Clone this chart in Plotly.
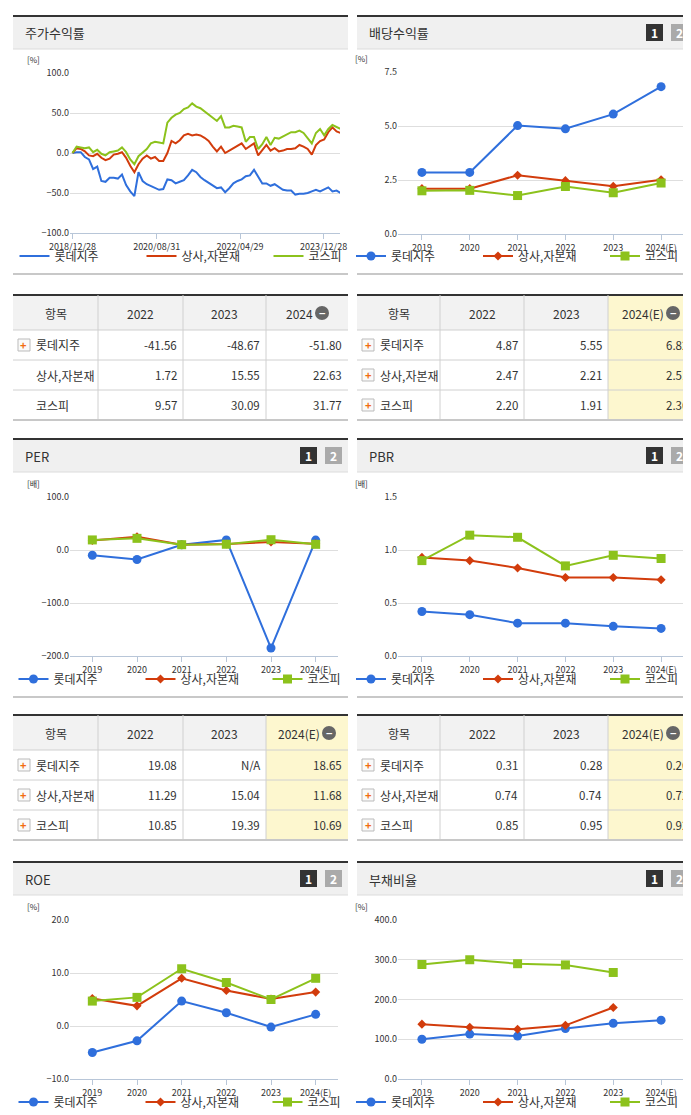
import pandas as pd
import plotly.graph_objects as go

W, H = 691, 1115
BLUE, RED, GREEN = '#2f6fdc', '#d23c0c', '#8cc21c'
NAMES = ['롯데지주', '상사,자본재', '코스피']
years = ['2019', '2020', '2021', '2022', '2023', '2024(E)']

# 주가수익률 (monthly)
ret_dates = pd.date_range('2018-12-28', periods=66, freq='30D')
ret_lotte = [0, 1, 1, -5, -8, -20, -17, -35, -36, -31, -31, -32, -27, -40, -48, -54, -24, -35, -39, -41,
             -43, -46, -45, -33, -34, -38, -36, -34, -28, -21, -24, -30, -34, -37, -40, -44, -43, -49, -44, -38,
             -35, -33, -29, -28, -21, -30, -38, -38, -41, -39, -43, -46, -47, -47, -52, -51, -51, -50, -48, -46,
             -48, -45, -43, -48, -47, -50]
ret_sector = [0, 6, 5, 2, -3, -4, -1, -6, -9, -7, -2, -1, 1, -6, -16, -24, -14, -7, -3, -7,
              -5, -10, -10, 0, 15, 12, 16, 22, 24, 22, 23, 22, 19, 15, 8, 2, 8, 0, 3, 6,
              10, 12, 5, 8, 12, -3, 4, 10, 3, 6, 2, 3, 5, 5, 6, 10, 8, 5, -2, 10,
              15, 17, 26, 32, 27, 25]
ret_kospi = [0, 8, 7, 6, 7, 1, 4, -1, -3, 1, 2, 3, 7, 1, -8, -14, -4, 1, 5, 12,
             14, 13, 12, 38, 44, 48, 50, 55, 57, 62, 58, 56, 52, 47, 43, 40, 46, 32, 32, 34,
             33, 32, 14, 20, 20, 5, 11, 20, 10, 19, 18, 21, 23, 26, 26, 28, 25, 18, 12, 25,
             30, 22, 30, 35, 33, 30]

div_lotte = [2.85, 2.85, 5.02, 4.87, 5.55, 6.82]
div_sector = [2.10, 2.10, 2.72, 2.47, 2.21, 2.51]
div_kospi = [2.00, 2.02, 1.78, 2.20, 1.91, 2.36]

per_lotte = [-10, -18, 10, 19.08, -185, 18.65]
per_sector = [18, 25, 10, 11.29, 15.04, 11.68]
per_kospi = [19, 22, 10, 10.85, 19.39, 10.69]

pbr_lotte = [0.42, 0.39, 0.31, 0.31, 0.28, 0.26]
pbr_sector = [0.93, 0.90, 0.83, 0.74, 0.74, 0.72]
pbr_kospi = [0.90, 1.14, 1.12, 0.85, 0.95, 0.92]

roe_lotte = [-5.0, -2.8, 4.7, 2.5, -0.2, 2.2]
roe_sector = [5.2, 3.8, 9.0, 6.7, 5.1, 6.4]
roe_kospi = [4.7, 5.4, 10.8, 8.2, 5.0, 9.0]

debt_lotte = [100, 113, 108, 127, 140, 148]
debt_sector = [138, 130, 125, 135, 180, None]
debt_kospi = [288, 300, 290, 287, 268, None]

tbl_ret = [['-41.56', '-48.67', '-51.80'], ['1.72', '15.55', '22.63'], ['9.57', '30.09', '31.77']]
tbl_div = [['4.87', '5.55', '6.82'], ['2.47', '2.21', '2.51'], ['2.20', '1.91', '2.36']]
tbl_per = [['19.08', 'N/A', '18.65'], ['11.29', '15.04', '11.68'], ['10.85', '19.39', '10.69']]
tbl_pbr = [['0.31', '0.28', '0.26'], ['0.74', '0.74', '0.72'], ['0.85', '0.95', '0.92']]


def X(p):
    return p / W


def Y(p):
    return 1 - p / H


fig = go.Figure()
shapes, annots = [], []
FONT = 'Noto Sans CJK KR'


def rect(x0, y0, x1, y1, fill=None, line=None, lw=1):
    shapes.append(dict(type='rect', xref='paper', yref='paper', x0=X(x0), x1=X(x1), y0=Y(y1), y1=Y(y0),
                       fillcolor=fill or 'rgba(0,0,0,0)', line=dict(color=line or 'rgba(0,0,0,0)', width=lw),
                       layer='below'))


def hline(x0, x1, y, color, lw=1):
    shapes.append(dict(type='line', xref='paper', yref='paper', x0=X(x0), x1=X(x1), y0=Y(y), y1=Y(y),
                       line=dict(color=color, width=lw)))


def vline(x, y0, y1, color, lw=1):
    shapes.append(dict(type='line', xref='paper', yref='paper', x0=X(x), x1=X(x), y0=Y(y0), y1=Y(y1),
                       line=dict(color=color, width=lw)))


def text(x, y, s, size=12, color='#333', xanchor='left', **kw):
    annots.append(dict(xref='paper', yref='paper', x=X(x), y=Y(y), text=s, showarrow=False,
                       xanchor=xanchor, yanchor='middle', font=dict(size=size, color=color, family=FONT), **kw))


def panel(x0, x1, y0, title, icons=True):
    rect(x0, y0, x1, y0 + 33, fill='#f0f0f0')
    hline(x0, x1, y0, '#333', 2)
    hline(x0, x1, y0 + 33, '#dcdcdc', 1)
    hline(x0, x1, y0 + 258, '#c8c8c8', 2)
    text(x0 + 10, y0 + 17, title, 13)
    if icons:
        for k, (lbl, col) in enumerate([('1', '#333'), ('2', '#aaa')]):
            bx = x1 - 48 + k * 25
            rect(bx, y0 + 8, bx + 17, y0 + 25, fill=col)
            text(bx + 8.5, y0 + 16.5, '<b>%s</b>' % lbl, 12, 'white', 'center')


def plus_icon(x, y):
    rect(x, y - 6, x + 12, y + 6, fill='#fafafa', line='#bbb')
    text(x + 6, y, '<b>+</b>', 11, '#f26b10', 'center')


def table(x0, cols, y0, head, rows, icons, hilite):
    x1 = cols[-1]
    rect(x0, y0, x1, y0 + 35, fill='#f2f2f2')
    if hilite:
        rect(cols[3], y0, x1, y0 + 125, fill='#fdf7cf')
    hline(x0, x1, y0, '#333', 2)
    hline(x0, x1, y0 + 35, '#d0d0d0')
    for c in cols[1:-1]:
        vline(c, y0, y0 + 125, '#d0d0d0')
    for i, h in enumerate(head):
        cx = (cols[i] + cols[i + 1]) / 2 - (8 if i == 3 else 0)
        text(cx, y0 + 18, h, 12, '#333', 'center')
    mx = (cols[3] + cols[4]) / 2 + (22 if len(head[3]) > 4 else 15)
    shapes.append(dict(type='circle', xref='paper', yref='paper', x0=X(mx - 7), x1=X(mx + 7),
                       y0=Y(y0 + 25), y1=Y(y0 + 11), fillcolor='#666', line=dict(width=0)))
    text(mx, y0 + 18, '<b>−</b>', 11, 'white', 'center')
    for r in range(3):
        ry = y0 + 35 + r * 30
        if r < 2:
            hline(x0, x1, ry + 30, '#d0d0d0')
        if icons[r]:
            plus_icon(x0 + 5, ry + 15)
        text(x0 + 21, ry + 15, NAMES[r], 12, '#333')
        for c in range(3):
            text(cols[c + 2] - 4, ry + 15, rows[r][c], 11.5, '#333', 'right')
    hline(x0, x1, y0 + 125, '#c8c8c8', 2)


n = [0]


def chart(x0, x1, ytop, ybot, series, yrange, dtick, unit, legend_y, cat=True):
    n[0] += 1
    k = n[0]
    xa, ya = ('x%d' % k, 'y%d' % k)
    sfx = '' if k == 1 else str(k)
    styles = [(BLUE, 'circle', 9), (RED, 'diamond', 7), (GREEN, 'square', 9)]
    for (xs, ys), name, (col, sym, sz) in zip(series, NAMES, styles):
        fig.add_trace(go.Scatter(x=xs, y=ys, name=name, xaxis=xa, yaxis=ya,
                                 mode='lines+markers' if cat else 'lines',
                                 line=dict(color=col, width=2), marker=dict(symbol=sym, size=sz, color=col),
                                 legend='legend' + sfx))
    xaxis = dict(domain=[X(x0), X(x1)], anchor=ya, showgrid=False, showline=True, linecolor='#b8c6d8',
                 ticks='outside', tickcolor='#b8c6d8', ticklen=5, tickfont=dict(size=9, color='#333'),
                 fixedrange=True, automargin=False)
    if cat:
        xaxis.update(type='category', range=[-0.5, 5.5])
    else:
        xaxis.update(type='date', range=['2018-12-10', '2024-04-25'],
                     tickvals=['2018-12-28', '2020-08-31', '2022-04-29', '2023-12-28'],
                     ticktext=['2018/12/28', '2020/08/31', '2022/04/29', '2023/12/28'])
    yaxis = dict(domain=[Y(ybot), Y(ytop)], anchor=xa, range=yrange, dtick=dtick, tickformat='.1f',
                 showgrid=True, gridcolor='#dedede', zeroline=False, showline=False,
                 tickfont=dict(size=9, color='#333'), fixedrange=True, automargin=False)
    fig.layout['xaxis' + sfx] = xaxis
    fig.layout['yaxis' + sfx] = yaxis
    fig.layout['legend' + sfx] = dict(x=X((x0 + x1) / 2), y=Y(legend_y), xanchor='center', yanchor='middle',
                                      orientation='h', font=dict(size=12, family=FONT, color='#333'),
                                      entrywidth=82, entrywidthmode='pixels', tracegroupgap=0,
                                      bgcolor='rgba(0,0,0,0)')
    text(x0 - 45, ytop - 14, unit, 8, '#333')


LX0, LX1, RX0, RX1 = 5, 340, 349, 686
for dy, (lt, rt) in zip([8, 431, 854], [('주가수익률', '배당수익률'), ('PER', 'PBR'), ('ROE', '부채비율')]):
    panel(LX0, LX1, dy, lt, icons=lt != '주가수익률')
    panel(RX0, RX1, dy, rt)

chart(62, 332, 65, 225, [(ret_dates, ret_lotte), (ret_dates, ret_sector), (ret_dates, ret_kospi)],
      [-100, 100], 50, '[%]', 248, cat=False)
chart(390, 677, 64, 226, [(years, div_lotte), (years, div_sector), (years, div_kospi)],
      [0, 7.5], 2.5, '[%]', 248)
chart(62, 330, 489, 648, [(years, per_lotte), (years, per_sector), (years, per_kospi)],
      [-200, 100], 100, '[배]', 671)
chart(390, 677, 489, 648, [(years, pbr_lotte), (years, pbr_sector), (years, pbr_kospi)],
      [0, 1.5], 0.5, '[배]', 671)
chart(62, 330, 912, 1071, [(years, roe_lotte), (years, roe_sector), (years, roe_kospi)],
      [-10, 20], 10, '[%]', 1094)
chart(390, 677, 912, 1071, [(years, debt_lotte), (years, debt_sector), (years, debt_kospi)],
      [0, 400], 100, '[%]', 1094)

LC = [5, 90, 175, 258, 340]
RC = [349, 432, 516, 600, 686]
table(5, LC, 287, ['항목', '2022', '2023', '2024'], tbl_ret, [True, False, False], False)
table(349, RC, 287, ['항목', '2022', '2023', '2024(E)'], tbl_div, [True, True, True], True)
table(5, LC, 707, ['항목', '2022', '2023', '2024(E)'], tbl_per, [True, True, True], True)
table(349, RC, 707, ['항목', '2022', '2023', '2024(E)'], tbl_pbr, [True, True, True], True)

fig.update_layout(width=W, height=H, margin=dict(l=0, r=0, t=0, b=0, autoexpand=False), paper_bgcolor='white',
                  plot_bgcolor='white', shapes=shapes, annotations=annots,
                  font=dict(family=FONT, size=12, color='#333'))
fig.write_html('out.html')
